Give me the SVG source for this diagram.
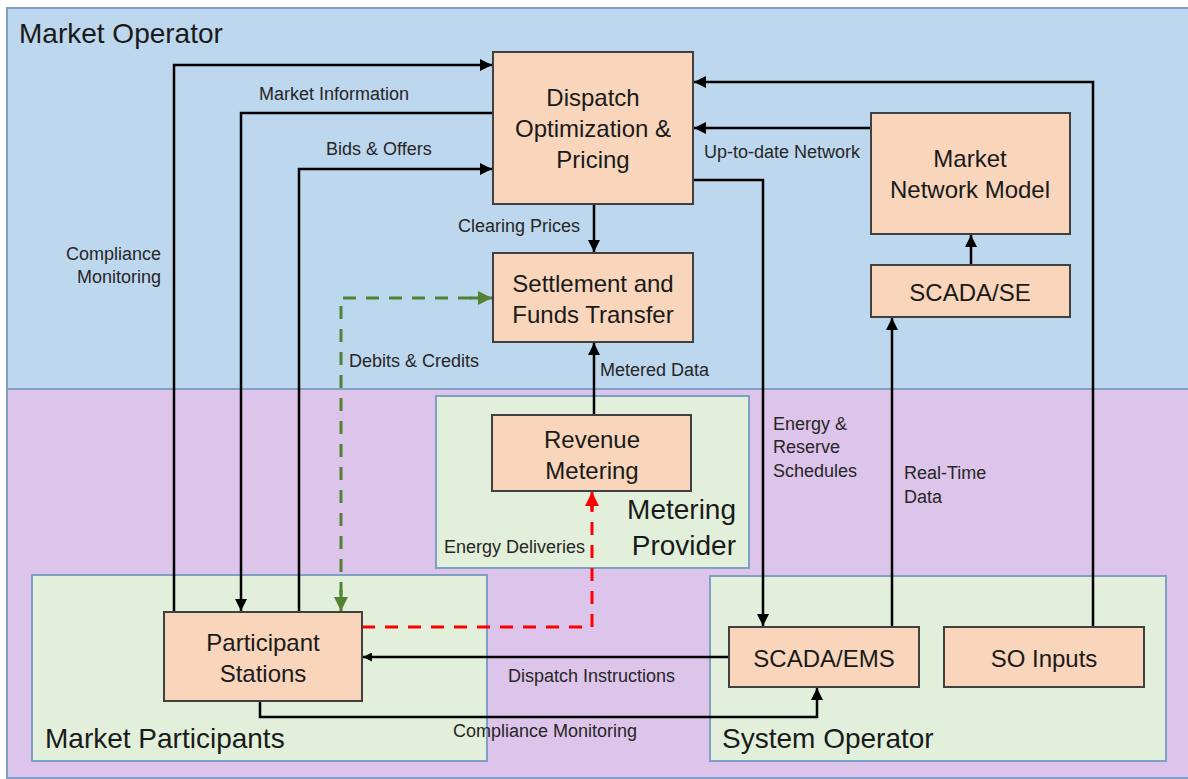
<svg xmlns="http://www.w3.org/2000/svg" width="1188" height="779" viewBox="0 0 1188 779">
<defs>
<style>
.region{stroke:#7f9fc4;stroke-width:2}
.node rect{fill:#f8d5bb;stroke:#404040;stroke-width:2}
.nt{font-family:"Liberation Sans",Arial,sans-serif;font-size:24px;fill:#1a1a1a;text-anchor:middle}
.gt{font-family:"Liberation Sans",Arial,sans-serif;font-size:28px;fill:#1a1a1a}
.lt{font-family:"Liberation Sans",Arial,sans-serif;font-size:18px;fill:#262626}
.c{fill:none;stroke:#000;stroke-width:2.5}
.gd{fill:none;stroke:#548235;stroke-width:3;stroke-dasharray:13 10}
.rd{fill:none;stroke:#ff0000;stroke-width:3;stroke-dasharray:13 10}
</style>
<marker id="ab" viewBox="0 0 10 10" refX="10" refY="5" markerWidth="9" markerHeight="9" markerUnits="userSpaceOnUse" orient="auto"><path d="M0,0 L10,5 L0,10 z" fill="#000"/></marker>
<marker id="abk" viewBox="0 0 10 10" refX="10" refY="5" markerWidth="12" markerHeight="12" orient="auto" markerUnits="userSpaceOnUse"><path d="M0,0 L10,5 L0,10 z" fill="#000"/></marker>
<marker id="ag" viewBox="0 0 10 10" refX="10" refY="5" markerWidth="14" markerHeight="15" orient="auto" markerUnits="userSpaceOnUse"><path d="M0,0 L10,5 L0,10 z" fill="#548235"/></marker>
<marker id="ar" viewBox="0 0 10 10" refX="10" refY="5" markerWidth="14" markerHeight="15" orient="auto" markerUnits="userSpaceOnUse"><path d="M0,0 L10,5 L0,10 z" fill="#ff0000"/></marker>
</defs>
<rect width="1188" height="779" fill="#ffffff"/>

<g id="market-operator">
<rect class="region" x="7" y="8" width="1190" height="381" fill="#bdd7ee"/>
<text class="gt" x="19" y="43">Market Operator</text>
</g>
<g id="lower-area">
<rect class="region" x="7" y="389" width="1190" height="389" fill="#dcc4ea"/>
</g>
<g id="metering-provider">
<rect class="region" x="436" y="396" width="313" height="172" fill="#e2efda"/>
<text class="gt" x="736" y="519" text-anchor="end">Metering</text>
<text class="gt" x="736" y="555" text-anchor="end">Provider</text>
</g>
<g id="market-participants">
<rect class="region" x="32" y="575" width="455" height="186" fill="#e2efda"/>
<text class="gt" x="45" y="748">Market Participants</text>
</g>
<g id="system-operator">
<rect class="region" x="710" y="576" width="456" height="185" fill="#e2efda"/>
<text class="gt" x="722" y="748">System Operator</text>
</g>

<g id="connectors">
<path class="c" d="M174,612 V65 H492" marker-end="url(#abk)"/>
<path class="c" d="M493,113 H241 V611" marker-end="url(#abk)"/>
<path class="c" d="M299,612 V169 H492" marker-end="url(#abk)"/>
<path class="c" d="M594,204 V252" marker-end="url(#abk)"/>
<path class="c" d="M594,415 V343" marker-end="url(#abk)"/>
<path class="c" d="M693,180 H763 V626" marker-end="url(#abk)"/>
<path class="c" d="M871,128 H694" marker-end="url(#abk)"/>
<path class="c" d="M1093,627 V82 H694" marker-end="url(#abk)"/>
<path class="c" d="M971,265 V235" marker-end="url(#abk)"/>
<path class="c" d="M892,627 V318" marker-end="url(#abk)"/>
<path class="c" d="M729,657 H363" marker-end="url(#ab)"/>
<path class="c" d="M260,701 V717 H817 V688" marker-end="url(#abk)"/>
<path class="gd" d="M341,595 V298 H478"/>
<path d="M470,298 H492" fill="none" stroke="#548235" stroke-width="3" marker-end="url(#ag)"/>
<path d="M341,590 V611" fill="none" stroke="#548235" stroke-width="3" marker-end="url(#ag)"/>
<path class="rd" d="M362,627 H592 V505"/>
<path d="M592,510 V492" fill="none" stroke="#ff0000" stroke-width="3" marker-end="url(#ar)"/>
<text class="lt" x="259" y="100">Market Information</text>
<text class="lt" x="326" y="155">Bids &amp; Offers</text>
<text class="lt" x="161" y="260" text-anchor="end">Compliance</text>
<text class="lt" x="161" y="283" text-anchor="end">Monitoring</text>
<text class="lt" x="580" y="232" text-anchor="end">Clearing Prices</text>
<text class="lt" x="704" y="158">Up-to-date Network</text>
<text class="lt" x="349" y="367">Debits &amp; Credits</text>
<text class="lt" x="600" y="376">Metered Data</text>
<text class="lt" x="773" y="430">Energy &amp;</text>
<text class="lt" x="773" y="453">Reserve</text>
<text class="lt" x="773" y="477">Schedules</text>
<text class="lt" x="904" y="479">Real-Time</text>
<text class="lt" x="904" y="503">Data</text>
<text class="lt" x="444" y="553">Energy Deliveries</text>
<text class="lt" x="508" y="682">Dispatch Instructions</text>
<text class="lt" x="453" y="737">Compliance Monitoring</text>
</g>

<g id="dispatch" class="node">
<rect x="493" y="52" width="200" height="152"/>
<text class="nt" x="593" y="106">Dispatch</text>
<text class="nt" x="593" y="137">Optimization &amp;</text>
<text class="nt" x="593" y="168">Pricing</text>
</g>
<g id="settlement" class="node">
<rect x="493" y="253" width="200" height="89"/>
<text class="nt" x="593" y="292">Settlement and</text>
<text class="nt" x="593" y="323">Funds Transfer</text>
</g>
<g id="market-network-model" class="node">
<rect x="871" y="113" width="199" height="121"/>
<text class="nt" x="970" y="167">Market</text>
<text class="nt" x="970" y="198">Network Model</text>
</g>
<g id="scada-se" class="node">
<rect x="871" y="265" width="199" height="52"/>
<text class="nt" x="970" y="301">SCADA/SE</text>
</g>
<g id="revenue-metering" class="node">
<rect x="492" y="415" width="199" height="76"/>
<text class="nt" x="592" y="448">Revenue</text>
<text class="nt" x="592" y="479">Metering</text>
</g>
<g id="participant-stations" class="node">
<rect x="164" y="612" width="198" height="89"/>
<text class="nt" x="263" y="651">Participant</text>
<text class="nt" x="263" y="682">Stations</text>
</g>
<g id="scada-ems" class="node">
<rect x="729" y="627" width="190" height="60"/>
<text class="nt" x="824" y="667">SCADA/EMS</text>
</g>
<g id="so-inputs" class="node">
<rect x="944" y="627" width="200" height="60"/>
<text class="nt" x="1044" y="667">SO Inputs</text>
</g>
</svg>
